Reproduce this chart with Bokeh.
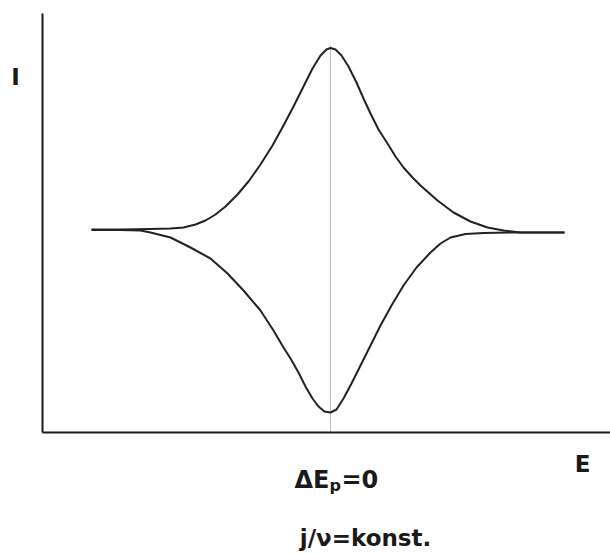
from bokeh.plotting import figure
from bokeh.models import Label, FixedTicker
from bokeh.embed import file_html
from bokeh.resources import INLINE

# Potential (relative to the formal potential, arbitrary units)
E_ox = [-239, -210, -180, -160, -147, -135, -125, -115, -105, -93, -82, -70, -58, -47,
        -37, -27, -18, -10, -4, 0, 5, 11, 18, 26, 33, 40, 48, 57, 65, 73, 82, 90,
        107, 123, 140, 157, 173, 190, 210, 234]
# Current of the anodic (upper) branch
I_ox = [1, 1, 1.5, 2, 3, 6, 10, 16, 24, 36, 49, 66, 85, 105,
        124, 144, 162, 175, 181, 182.5, 181, 175, 164, 148, 132, 117, 101, 87, 74, 63, 53, 45,
        30, 18, 9, 3, 0, -2, -2, -2]

E_red = [-239, -210, -190, -180, -160, -140, -120, -103, -87, -70, -57, -47, -40, -32,
         -25, -18, -12, -6, 0, 6, 13, 21, 30, 40, 50, 61, 73, 86, 100, 110, 120, 135,
         153, 180, 210, 234]
# Current of the cathodic (lower) branch
I_red = [0.5, 0.5, 0, -2, -7, -17, -28, -43, -60, -80, -100, -117, -128, -142,
         -156, -168, -176, -181, -182, -179, -168, -153, -135, -115, -95, -75, -55, -37, -22, -13, -7, -3.5,
         -2.5, -2, -2, -2]

# axis extents (origin of the E/I axes and their ends)
E_axis = (-288, 280)
I_axis = (-202, 217)

x_label = "E"
y_label = "I"
peak_label = ["\u0394E", "p", "=0"]
note_label = "j/\u03bd=konst."

INK = "#1a1a1a"
FONT = "DejaVu Sans"

p = figure(width=610, height=554, x_range=(-330, 280), y_range=(-324, 230),
           output_backend="svg", toolbar_location=None,
           min_border_left=0, min_border_right=0, min_border_top=0, min_border_bottom=0)
p.outline_line_color = None
p.xgrid.visible = False
p.ygrid.visible = False
p.background_fill_color = "white"
p.border_fill_color = "white"

for ax in (p.xaxis, p.yaxis):
    ax.ticker = FixedTicker(ticks=[])
    ax.major_tick_line_color = None
    ax.minor_tick_line_color = None
    ax.major_tick_out = 0
    ax.major_tick_in = 0
    ax.minor_tick_out = 0
    ax.minor_tick_in = 0
    ax.major_label_text_font_size = "0px"
    ax.axis_line_width = 2
    ax.axis_line_color = INK

p.xaxis.fixed_location = I_axis[0]
p.xaxis.bounds = E_axis
p.yaxis.fixed_location = E_axis[0]
p.yaxis.bounds = I_axis

# dotted line at the peak potential
peak_E = E_ox[I_ox.index(max(I_ox))]
p.segment(x0=[peak_E], y0=[I_axis[0]], x1=[peak_E], y1=[max(I_ox) + 3],
          line_color="#7a7a7a", line_width=1, line_dash="1 1")

p.line(E_ox, I_ox, line_color="#222222", line_width=2, line_join="round")
p.line(E_red, I_red, line_color="#222222", line_width=2, line_join="round")

def lab(text, x, y, size, align="left"):
    p.add_layout(Label(x=x, y=y, text=text, text_font=FONT, text_font_style="bold",
                       text_font_size=size, text_color=INK, text_align=align,
                       text_baseline="alphabetic"))

lab(y_label, -315, 154, "23px", "center")
lab(x_label, 252, -233, "23px", "center")
lab(peak_label[0], -1, -249, "24px", "right")
lab(peak_label[1], -1, -255, "16px", "left")
lab(peak_label[2], 11, -249, "24px", "left")
lab(note_label, 35, -307, "23px", "center")

open("out.html", "w").write(file_html(p, INLINE))
